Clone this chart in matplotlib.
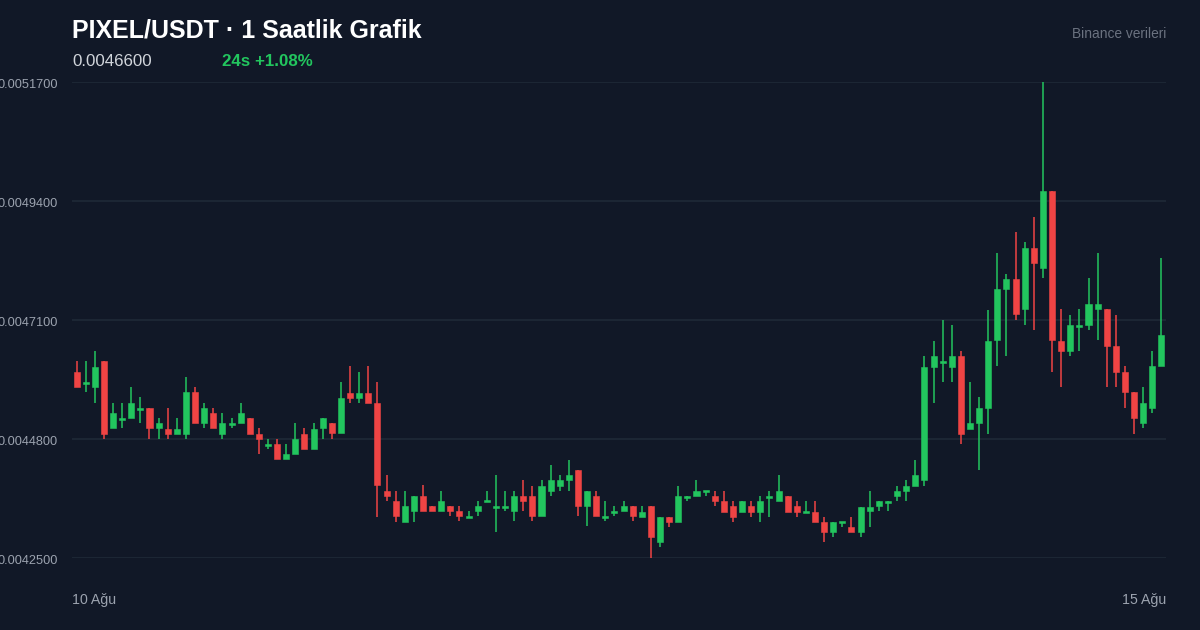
import matplotlib
matplotlib.use("Agg")
import matplotlib.pyplot as plt
import matplotlib.transforms as mtransforms
import numpy as np

plt.rcParams['font.family'] = ['Liberation Sans', 'DejaVu Sans']

title = "PIXEL/USDT · 1 Saatlik Grafik"
last_price = "0.0046600"
change_text = "24s +1.08%"
source_text = "Binance verileri"
x_labels = ["10 Ağu", "15 Ağu"]
y_ticks = [0.00425, 0.00448, 0.00471, 0.00494, 0.00517]

opens = [0.0046095, 0.0045863, 0.0045805, 0.0046308, 0.0045013, 0.0045167, 0.0045206, 0.0045361, 0.0045399, 0.0045013,
         0.0044993, 0.0044897, 0.0044897, 0.0045708, 0.0045109, 0.0045303, 0.0044897, 0.0045071, 0.0045109, 0.0045206,
         0.0044897, 0.0044665, 0.0044703, 0.0044413, 0.0044510, 0.0044897, 0.0044607, 0.0045013, 0.0045109, 0.0044916,
         0.0045689, 0.0045592, 0.0045689, 0.0045496, 0.0043795, 0.0043602, 0.0043196, 0.0043408, 0.0043698, 0.0043505,
         0.0043408, 0.0043505, 0.0043408, 0.0043273, 0.0043408, 0.0043582, 0.0043466, 0.0043466, 0.0043408, 0.0043698,
         0.0043698, 0.0043312, 0.0043795, 0.0043892, 0.0044008, 0.0044201, 0.0043505, 0.0043698, 0.0043273, 0.0043370,
         0.0043408, 0.0043505, 0.0043292, 0.0043505, 0.0042809, 0.0043292, 0.0043196, 0.0043660, 0.0043698, 0.0043776,
         0.0043698, 0.0043602, 0.0043505, 0.0043389, 0.0043505, 0.0043389, 0.0043660, 0.0043602, 0.0043698, 0.0043505,
         0.0043370, 0.0043389, 0.0043196, 0.0043003, 0.0043176, 0.0043099, 0.0043003, 0.0043408, 0.0043505, 0.0043563,
         0.0043698, 0.0043795, 0.0043892, 0.0044008, 0.0046192, 0.0046269, 0.0046192, 0.0046404, 0.0044993, 0.0045109,
         0.0045399, 0.0046713, 0.0047699, 0.0047892, 0.0047313, 0.0048492, 0.0048105, 0.0049593, 0.0046694, 0.0046501,
         0.0046965, 0.0047003, 0.0047313, 0.0047313, 0.0046597, 0.0046095, 0.0045708, 0.0045109, 0.0045399, 0.0046211]
highs = [0.0046308, 0.0046308, 0.0046501, 0.0046308, 0.0045496, 0.0045496, 0.0045805, 0.0045612, 0.0045399, 0.0045206,
         0.0045399, 0.0045206, 0.0045998, 0.0045805, 0.0045496, 0.0045399, 0.0045303, 0.0045206, 0.0045496, 0.0045206,
         0.0045013, 0.0044800, 0.0044800, 0.0044703, 0.0045109, 0.0045013, 0.0045109, 0.0045206, 0.0045109, 0.0045902,
         0.0046211, 0.0046095, 0.0046211, 0.0045902, 0.0044104, 0.0043795, 0.0043795, 0.0043698, 0.0043911, 0.0043505,
         0.0043795, 0.0043505, 0.0043505, 0.0043408, 0.0043602, 0.0043795, 0.0044104, 0.0043795, 0.0043795, 0.0044008,
         0.0043892, 0.0044008, 0.0044297, 0.0044104, 0.0044394, 0.0044201, 0.0043795, 0.0043795, 0.0043602, 0.0043505,
         0.0043602, 0.0043505, 0.0043505, 0.0043505, 0.0043292, 0.0043292, 0.0043892, 0.0043698, 0.0044008, 0.0043795,
         0.0043795, 0.0043795, 0.0043602, 0.0043602, 0.0043602, 0.0043698, 0.0043795, 0.0044104, 0.0043698, 0.0043602,
         0.0043602, 0.0043602, 0.0043292, 0.0043196, 0.0043196, 0.0043292, 0.0043486, 0.0043795, 0.0043602, 0.0043602,
         0.0043892, 0.0044008, 0.0044394, 0.0046404, 0.0046694, 0.0047100, 0.0047003, 0.0046501, 0.0045902, 0.0045612,
         0.0047293, 0.0048395, 0.0047989, 0.0048801, 0.0048608, 0.0049091, 0.0051700, 0.0049593, 0.0047313, 0.0047197,
         0.0047313, 0.0047912, 0.0048395, 0.0047313, 0.0047197, 0.0046211, 0.0045708, 0.0045805, 0.0046501, 0.0048298]
lows = [0.0045805, 0.0045708, 0.0045496, 0.0044800, 0.0045013, 0.0045013, 0.0045206, 0.0045109, 0.0044800, 0.0044800,
        0.0044800, 0.0044897, 0.0044800, 0.0045109, 0.0045013, 0.0045013, 0.0044800, 0.0045013, 0.0045109, 0.0044897,
        0.0044510, 0.0044607, 0.0044413, 0.0044413, 0.0044510, 0.0044607, 0.0044607, 0.0044800, 0.0044800, 0.0044916,
        0.0045496, 0.0045496, 0.0045496, 0.0043292, 0.0043602, 0.0043196, 0.0043196, 0.0043196, 0.0043408, 0.0043408,
        0.0043408, 0.0043312, 0.0043215, 0.0043273, 0.0043312, 0.0043582, 0.0043003, 0.0043408, 0.0043215, 0.0043408,
        0.0043215, 0.0043312, 0.0043698, 0.0043795, 0.0043795, 0.0043312, 0.0043118, 0.0043312, 0.0043215, 0.0043312,
        0.0043408, 0.0043215, 0.0043292, 0.0042500, 0.0042713, 0.0043099, 0.0043196, 0.0043602, 0.0043698, 0.0043698,
        0.0043505, 0.0043389, 0.0043196, 0.0043389, 0.0043292, 0.0043196, 0.0043292, 0.0043602, 0.0043389, 0.0043292,
        0.0043370, 0.0043196, 0.0042809, 0.0042906, 0.0043099, 0.0043003, 0.0042906, 0.0043099, 0.0043408, 0.0043408,
        0.0043602, 0.0043602, 0.0043892, 0.0043892, 0.0045496, 0.0045902, 0.0045902, 0.0044703, 0.0044993, 0.0044201,
        0.0044897, 0.0046211, 0.0046404, 0.0047100, 0.0047003, 0.0046907, 0.0047912, 0.0046095, 0.0045805, 0.0046404,
        0.0046501, 0.0046907, 0.0046713, 0.0045805, 0.0045805, 0.0045399, 0.0044897, 0.0045013, 0.0045303, 0.0046211]
closes = [0.0045805, 0.0045882, 0.0046192, 0.0044897, 0.0045303, 0.0045206, 0.0045496, 0.0045399, 0.0045013, 0.0045109,
          0.0044897, 0.0044993, 0.0045708, 0.0045109, 0.0045399, 0.0045013, 0.0045109, 0.0045109, 0.0045303, 0.0044897,
          0.0044800, 0.0044703, 0.0044413, 0.0044510, 0.0044800, 0.0044607, 0.0044993, 0.0045206, 0.0044916, 0.0045592,
          0.0045592, 0.0045689, 0.0045496, 0.0043911, 0.0043698, 0.0043312, 0.0043505, 0.0043698, 0.0043408, 0.0043408,
          0.0043602, 0.0043408, 0.0043312, 0.0043292, 0.0043505, 0.0043602, 0.0043486, 0.0043505, 0.0043698, 0.0043602,
          0.0043312, 0.0043892, 0.0044008, 0.0044008, 0.0044104, 0.0043505, 0.0043795, 0.0043312, 0.0043312, 0.0043408,
          0.0043505, 0.0043312, 0.0043389, 0.0042906, 0.0043292, 0.0043196, 0.0043698, 0.0043698, 0.0043795, 0.0043795,
          0.0043602, 0.0043389, 0.0043292, 0.0043602, 0.0043389, 0.0043602, 0.0043698, 0.0043795, 0.0043389, 0.0043389,
          0.0043389, 0.0043196, 0.0043003, 0.0043196, 0.0043196, 0.0043003, 0.0043486, 0.0043486, 0.0043602, 0.0043602,
          0.0043795, 0.0043892, 0.0044104, 0.0046192, 0.0046404, 0.0046288, 0.0046404, 0.0044897, 0.0045109, 0.0045399,
          0.0046694, 0.0047699, 0.0047892, 0.0047216, 0.0048492, 0.0048202, 0.0049593, 0.0046713, 0.0046501, 0.0047003,
          0.0047003, 0.0047409, 0.0047409, 0.0046597, 0.0046095, 0.0045708, 0.0045206, 0.0045496, 0.0046211, 0.0046810]

BG = "#111827"
GRID = "#1f2937"
UP = "#22c55e"
DOWN = "#ef4444"

W, H = 1200, 630
fig = plt.figure(figsize=(W / 100, H / 100), dpi=100, facecolor=BG)
ax = fig.add_axes([72 / W, 1 - 558 / H, (1166 - 72) / W, (558 - 82) / H])
ax.set_facecolor(BG)

o = np.array(opens); h = np.array(highs); l = np.array(lows); c = np.array(closes)
n = len(o)
x = np.arange(n)
up = c >= o
cols = np.where(up, UP, DOWN)

ymin, ymax = min(y_ticks), max(y_ticks)
minh = (ymax - ymin) * 1.8 / 476

ax.vlines(x, l, h, colors=cols, linewidth=1.1, zorder=2)
bottoms = np.minimum(o, c)
heights = np.maximum(np.abs(c - o), minh)
ax.bar(x, heights, bottom=bottoms, width=0.66, color=cols, edgecolor=cols, linewidth=0.4, zorder=3)

ax.set_xlim(-0.5, n - 0.5)
ax.set_ylim(ymin, ymax)
ax.set_yticks(y_ticks)
ax.set_yticklabels([f"{v:.7f}" for v in y_ticks])
ax.set_xticks([])
ax.tick_params(axis='y', length=0, pad=10, labelsize=9.2, labelcolor="#9ca3af")
shift = mtransforms.ScaledTranslation(0, -1.5 / 100, fig.dpi_scale_trans)
for lab in ax.get_yticklabels():
    lab.set_transform(lab.get_transform() + shift)
ax.grid(axis='y', color=GRID, linewidth=1.2, zorder=0)
for s in ax.spines.values():
    s.set_visible(False)

fig.text(72 / W, 1 - 38 / H, title, color="#ffffff", fontsize=18, fontweight='bold', ha='left', va='baseline')
fig.text(72 / W, 1 - 66 / H, last_price, color="#d1d5db", fontsize=12.2, ha='left', va='baseline')
fig.text(222 / W, 1 - 66 / H, change_text, color=UP, fontsize=12.2, fontweight='bold', ha='left', va='baseline')
fig.text(1166 / W, 1 - 38 / H, source_text, color="#6b7280", fontsize=9.9, ha='right', va='baseline')
fig.text(72 / W, 1 - 604 / H, x_labels[0], color="#9ca3af", fontsize=10.2, ha='left', va='baseline')
fig.text(1166 / W, 1 - 604 / H, x_labels[1], color="#9ca3af", fontsize=10.2, ha='right', va='baseline')

fig.savefig("out.png", dpi=100, facecolor=BG)
